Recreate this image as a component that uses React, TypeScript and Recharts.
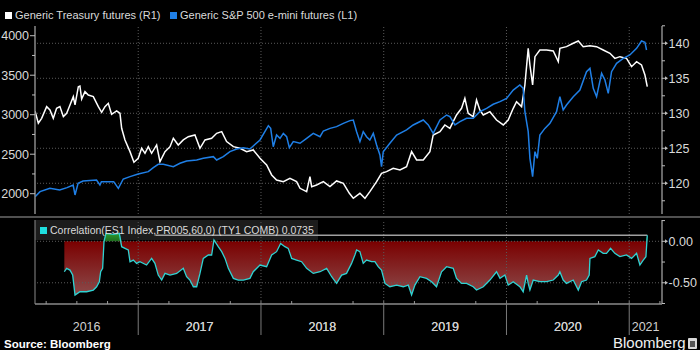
import React from 'react';
import { ComposedChart, Line, Area, XAxis, YAxis, ReferenceLine } from 'recharts';

// ---------- DATA ----------
// Generic S&P 500 e-mini futures (L1) — date as decimal year
const spxDates = [
  2016.16, 2016.2, 2016.28, 2016.36, 2016.42, 2016.47, 2016.485, 2016.51, 2016.55, 2016.66,
  2016.688, 2016.7, 2016.8, 2016.838, 2016.878, 2016.933, 2017.0, 2017.082, 2017.123, 2017.163,
  2017.204, 2017.286, 2017.34, 2017.394, 2017.476, 2017.53, 2017.612, 2017.639, 2017.693, 2017.747,
  2017.802, 2017.856, 2017.91, 2017.992, 2018.06, 2018.079, 2018.1, 2018.127, 2018.155, 2018.182,
  2018.209, 2018.231, 2018.263, 2018.318, 2018.372, 2018.426, 2018.481, 2018.508, 2018.562, 2018.616,
  2018.671, 2018.725, 2018.752, 2018.779, 2018.806, 2018.833, 2018.86, 2018.887, 2018.915, 2018.942,
  2018.969, 2018.982, 2018.996, 2019.05, 2019.105, 2019.186, 2019.24, 2019.322, 2019.363, 2019.403,
  2019.458, 2019.512, 2019.539, 2019.58, 2019.621, 2019.675, 2019.729, 2019.783, 2019.838, 2019.892,
  2019.947, 2020.001, 2020.055, 2020.109, 2020.136, 2020.15, 2020.177, 2020.191, 2020.213, 2020.232,
  2020.251, 2020.272, 2020.313, 2020.354, 2020.408, 2020.435, 2020.462, 2020.489, 2020.544, 2020.598,
  2020.652, 2020.68, 2020.707, 2020.734, 2020.775, 2020.802, 2020.829, 2020.856, 2020.897, 2020.951,
  2021.005, 2021.06, 2021.1, 2021.128, 2021.141,
];
const spxValues = [
  1962, 2026, 2068, 2047, 2077, 2110, 1984, 2131, 2161, 2173,
  2110, 2152, 2152, 2068, 2186, 2216, 2249, 2279, 2330, 2372,
  2372, 2342, 2385, 2414, 2427, 2448, 2469, 2427, 2469, 2532,
  2566, 2583, 2566, 2680, 2861, 2827, 2595, 2743, 2701, 2764,
  2722, 2583, 2659, 2638, 2701, 2764, 2722, 2794, 2827, 2849,
  2891, 2925, 2933, 2785, 2659, 2785, 2722, 2680, 2764, 2617,
  2490, 2342, 2532, 2638, 2743, 2807, 2870, 2933, 2870, 2764,
  2933, 2996, 2975, 2870, 2912, 2954, 2954, 3038, 3081, 3132,
  3165, 3207, 3312, 3376, 3334, 3038, 2785, 2448, 2216, 2532,
  2448, 2743, 2827, 2891, 3038, 3228, 3060, 3123, 3228, 3312,
  3545, 3587, 3334, 3228, 3524, 3439, 3270, 3545, 3650, 3714,
  3756, 3840, 3933, 3916, 3819,
];

// Generic Treasury futures (R1)
const tyDates = [
  2016.159, 2016.186, 2016.213, 2016.254, 2016.281, 2016.308, 2016.335, 2016.362, 2016.39, 2016.417,
  2016.444, 2016.471, 2016.485, 2016.512, 2016.525, 2016.539, 2016.566, 2016.593, 2016.634, 2016.675,
  2016.702, 2016.729, 2016.756, 2016.783, 2016.824, 2016.851, 2016.865, 2016.892, 2016.933, 2016.965,
  2017.0, 2017.028, 2017.055, 2017.082, 2017.109, 2017.15, 2017.177, 2017.218, 2017.259, 2017.286,
  2017.326, 2017.367, 2017.408, 2017.462, 2017.503, 2017.544, 2017.598, 2017.639, 2017.68, 2017.72,
  2017.775, 2017.829, 2017.883, 2017.937, 2017.992, 2018.046, 2018.087, 2018.127, 2018.182, 2018.236,
  2018.29, 2018.318, 2018.372, 2018.399, 2018.413, 2018.453, 2018.508, 2018.562, 2018.616, 2018.671,
  2018.72, 2018.752, 2018.806, 2018.847, 2018.887, 2018.942, 2018.982, 2019.023, 2019.077, 2019.132,
  2019.186, 2019.227, 2019.268, 2019.322, 2019.376, 2019.403, 2019.458, 2019.498, 2019.539, 2019.593,
  2019.634, 2019.661, 2019.688, 2019.729, 2019.756, 2019.783, 2019.811, 2019.865, 2019.919, 2019.974,
  2020.014, 2020.055, 2020.082, 2020.123, 2020.15, 2020.177, 2020.191, 2020.213, 2020.232, 2020.272,
  2020.327, 2020.381, 2020.422, 2020.435, 2020.489, 2020.544, 2020.585, 2020.625, 2020.68, 2020.734,
  2020.788, 2020.843, 2020.883, 2020.924, 2020.978, 2021.019, 2021.06, 2021.1, 2021.128, 2021.147,
];
const tyValues = [
  130.33, 128.57, 129.28, 130.95, 130.47, 129.28, 130.71, 130.95, 129.52, 130.0,
  131.19, 132.38, 131.19, 133.8, 133.9, 132.04, 133.09, 132.61, 132.38, 130.95,
  130.14, 130.95, 131.42, 129.85, 130.33, 130.0, 127.86, 126.19, 124.52, 123.0,
  123.57, 125.0, 124.28, 125.23, 124.28, 125.47, 123.09, 124.52, 125.23, 126.42,
  125.47, 126.19, 126.66, 126.9, 125.0, 126.19, 126.42, 127.14, 127.38, 125.95,
  125.23, 125.0, 124.52, 124.76, 123.57, 122.62, 121.19, 120.47, 120.23, 120.71,
  120.23, 119.28, 118.8, 120.95, 119.52, 119.76, 120.23, 119.52, 120.33, 120.0,
  118.57, 117.85, 118.57, 117.85, 118.8, 120.23, 121.42, 121.66, 122.14, 121.9,
  122.38, 124.52, 123.33, 123.33, 124.52, 126.9, 127.38, 128.33, 127.85, 129.76,
  130.71, 132.14, 130.0, 129.52, 131.9, 130.47, 129.76, 130.23, 129.04, 128.33,
  129.04, 130.71, 131.66, 130.95, 134.04, 139.28, 136.9, 134.04, 138.09, 139.04,
  139.04, 138.9, 137.38, 139.28, 139.52, 140.0, 140.33, 139.52, 139.66, 139.52,
  139.04, 138.57, 137.85, 138.09, 137.85, 136.66, 137.38, 136.9, 135.47, 133.8,
];

// Correlation(ES1 Index,PR005,60,0) (TY1 COMB)
const corrDates = [
  2016.398, 2016.417, 2016.444, 2016.466, 2016.485, 2016.525, 2016.58, 2016.634, 2016.661, 2016.683,
  2016.694, 2016.71, 2016.721, 2016.737, 2016.797, 2016.846, 2016.865, 2016.892, 2016.919, 2016.933,
  2016.96, 2016.987, 2017.014, 2017.068, 2017.109, 2017.136, 2017.163, 2017.191, 2017.218, 2017.259,
  2017.313, 2017.367, 2017.394, 2017.421, 2017.449, 2017.476, 2017.503, 2017.53, 2017.571, 2017.598,
  2017.617, 2017.652, 2017.68, 2017.707, 2017.734, 2017.775, 2017.815, 2017.856, 2017.91, 2017.937,
  2017.992, 2018.046, 2018.087, 2018.127, 2018.16, 2018.195, 2018.222, 2018.25, 2018.29, 2018.331,
  2018.372, 2018.426, 2018.481, 2018.535, 2018.576, 2018.616, 2018.657, 2018.697, 2018.738, 2018.765,
  2018.779, 2018.806, 2018.833, 2018.86, 2018.901, 2018.928, 2018.955, 2018.982, 2019.01, 2019.05,
  2019.105, 2019.159, 2019.2, 2019.227, 2019.254, 2019.295, 2019.349, 2019.39, 2019.43, 2019.471,
  2019.512, 2019.566, 2019.593, 2019.634, 2019.675, 2019.729, 2019.756, 2019.811, 2019.865, 2019.919,
  2019.947, 2019.987, 2020.014, 2020.055, 2020.109, 2020.136, 2020.164, 2020.177, 2020.191, 2020.218,
  2020.272, 2020.327, 2020.381, 2020.422, 2020.435, 2020.462, 2020.489, 2020.544, 2020.585, 2020.612,
  2020.652, 2020.674, 2020.68, 2020.72, 2020.748, 2020.788, 2020.815, 2020.848, 2020.883, 2020.924,
  2020.978, 2021.019, 2021.06, 2021.087, 2021.114, 2021.136, 2021.147,
];
const corrValues = [
  -0.367, -0.326, -0.347, -0.407, -0.648, -0.608, -0.608, -0.588, -0.548, -0.487,
  -0.367, -0.326, -0.004, 0.096, 0.084, 0.096, -0.065, -0.085, -0.105, -0.246,
  -0.226, -0.266, -0.246, -0.286, -0.206, -0.266, -0.407, -0.467, -0.387, -0.407,
  -0.387, -0.326, -0.427, -0.467, -0.548, -0.548, -0.387, -0.206, -0.165, -0.165,
  0.016, -0.065, -0.125, -0.206, -0.326, -0.447, -0.467, -0.467, -0.447, -0.367,
  -0.286, -0.306, -0.165, -0.125, -0.025, -0.065, -0.085, -0.206, -0.226, -0.246,
  -0.326, -0.387, -0.367, -0.326, -0.427, -0.508, -0.407, -0.387, -0.266, -0.165,
  -0.105, -0.125, -0.266, -0.226, -0.246, -0.246, -0.306, -0.347, -0.508, -0.548,
  -0.528, -0.548, -0.528, -0.648, -0.528, -0.427, -0.447, -0.487, -0.548, -0.367,
  -0.306, -0.326, -0.447, -0.508, -0.508, -0.548, -0.588, -0.548, -0.467, -0.367,
  -0.447, -0.407, -0.528, -0.487, -0.548, -0.608, -0.407, -0.508, -0.588, -0.467,
  -0.487, -0.487, -0.467, -0.407, -0.367, -0.467, -0.508, -0.467, -0.588, -0.487,
  -0.467, -0.407, -0.206, -0.185, -0.105, -0.145, -0.145, -0.085, -0.145, -0.185,
  -0.165, -0.206, -0.145, -0.286, -0.226, -0.185, 0.0735,
];
const corrLast = 0.0735;

// Axes
const xDomain = [2016.159, 2021.267];
const yearBoundaries = [2017, 2018, 2019, 2020, 2021];
const yearLabels = ['2016', '2017', '2018', '2019', '2020', '2021'];
const quarterTicks = [
  2016.25, 2016.5, 2016.75, 2017, 2017.25, 2017.5, 2017.75, 2018, 2018.25, 2018.5, 2018.75,
  2019, 2019.25, 2019.5, 2019.75, 2020, 2020.25, 2020.5, 2020.75, 2021, 2021.25,
];
const leftTicks = [2000, 2250, 2500, 2750, 3000, 3250, 3500, 3750, 4000];
const leftDomain = [1743, 4123];
const rightTicks = [117.5, 120, 122.5, 125, 127.5, 130, 132.5, 135, 137.5, 140, 142.5];
const rightGrid = [120, 125, 130, 135, 140];
const rightDomain = [115.61, 142.47];
const corrTicks = [0.25, 0, -0.25, -0.5, -0.75];
const corrGrid = [0, -0.5];
const corrDomain = [-0.756, 0.257];
const corrLabelStart = 2017.14;

// ---------- STYLE ----------
const FONT = '"Liberation Sans", Arial, sans-serif';
const AXIS = '#8a8a8a';
const GRID = '#5a5a5a';
const TXT = '#dadada';

const spxData = spxDates.map((t, i) => ({ t, v: spxValues[i] }));
const tyData = tyDates.map((t, i) => ({ t, v: tyValues[i] }));
const corrData = corrDates.map((t, i) => ({ t, v: corrValues[i] }));
const corrNeg = corrDates.map((t, i) => ({ t, v: Math.min(corrValues[i], 0) }));
const corrPos = corrDates.map((t, i) => ({ t, v: Math.max(corrValues[i], 0) }));
const labelCenters = yearLabels.map((_, i) => {
  const y0 = Math.max(2016 + i, xDomain[0]);
  const y1 = Math.min(2017 + i, xDomain[1]);
  return (y0 + y1) / 2;
});
const xTicks = [...quarterTicks, ...labelCenters].sort((a, b) => a - b);

const LeftTick = (props: any) => {
  const { x, y, payload } = props;
  const v = payload.value;
  const major = v % 500 === 0;
  return (
    <g>
      <line x1={x - (major ? 5 : 3)} x2={x} y1={y} y2={y} stroke="#bdbdbd" strokeWidth={1} />
      {major && (
        <text x={x - 6} y={y} dy={4.5} textAnchor="end" fill={TXT} fontSize={12.5} fontFamily={FONT}>
          {v}
        </text>
      )}
    </g>
  );
};

const RightTick = (props: any) => {
  const { x, y, payload } = props;
  const v = payload.value;
  const major = Math.abs(v % 5) < 1e-6;
  return (
    <g>
      <line x1={x} x2={x + (major ? 4 : 3)} y1={y} y2={y} stroke="#bdbdbd" strokeWidth={1} />
      {major && <polygon points={`${x + 3},${y - 2} ${x + 6},${y} ${x + 3},${y + 2}`} fill="#bdbdbd" />}
      {major && (
        <text x={x + 6.5} y={y} dy={4.5} textAnchor="start" fill={TXT} fontSize={12.5} fontFamily={FONT}>
          {v}
        </text>
      )}
    </g>
  );
};

const CorrTick = (props: any) => {
  const { x, y, payload } = props;
  const v = payload.value;
  const major = Math.abs((v * 2) % 1) < 1e-6;
  return (
    <g>
      <line x1={x} x2={x + (major ? 4 : 3)} y1={y} y2={y} stroke="#bdbdbd" strokeWidth={1} />
      {major && <polygon points={`${x + 3},${y - 2} ${x + 6},${y} ${x + 3},${y + 2}`} fill="#bdbdbd" />}
      {major && (
        <text x={x + 6.5} y={y} dy={4.5} textAnchor="start" fill={TXT} fontSize={12.5} fontFamily={FONT}>
          {v.toFixed(2)}
        </text>
      )}
    </g>
  );
};

const XTick = (props: any) => {
  const { x, y, payload } = props;
  const v = payload.value;
  const li = labelCenters.findIndex((c) => Math.abs(c - v) < 1e-6);
  if (li >= 0) {
    return (
      <text x={x} y={y + 27} textAnchor="middle" fill="#d0d0d0" fontSize={12.5} fontFamily={FONT}>
        {yearLabels[li]}
      </text>
    );
  }
  if (Math.abs(v - Math.round(v)) < 1e-6) {
    return <line x1={x} x2={x} y1={y - 3} y2={y + 31} stroke="#7a7a7a" strokeWidth={1} />;
  }
  return <line x1={x} x2={x} y1={y - 3} y2={y} stroke="#9a9a9a" strokeWidth={1} />;
};

const abs = (o: React.CSSProperties): React.CSSProperties => ({ position: 'absolute', ...o });

export default function App() {
  return (
    <div style={abs({ left: 0, top: 0, width: 700, height: 350, background: '#000', overflow: 'hidden', fontFamily: FONT })}>
      {/* top legend */}
      <div style={abs({ left: 5, top: 12, width: 7, height: 7, background: '#ffffff' })} />
      <div style={abs({ left: 15, top: 8, fontSize: 11, lineHeight: '14px', color: TXT, whiteSpace: 'nowrap' })}>
        Generic Treasury futures (R1)
      </div>
      <div style={abs({ left: 170, top: 12, width: 7, height: 7, background: '#1f7fe6' })} />
      <div style={abs({ left: 180, top: 8, fontSize: 11, lineHeight: '14px', color: TXT, whiteSpace: 'nowrap' })}>
        Generic S&amp;P 500 e-mini futures (L1)
      </div>

      {/* top panel */}
      <div style={abs({ left: 0, top: 0 })}>
        <ComposedChart width={700} height={220} margin={{ top: 26, right: 0, bottom: 6, left: 0 }}>
          <XAxis type="number" dataKey="t" domain={xDomain} allowDataOverflow hide />
          <YAxis
            yAxisId="left"
            orientation="left"
            width={35}
            type="number"
            domain={leftDomain}
            allowDataOverflow
            ticks={leftTicks}
            interval={0}
            tick={<LeftTick />}
            tickLine={false}
            tickSize={0}
            tickMargin={0}
            axisLine={{ stroke: AXIS, strokeWidth: 1.5 }}
          />
          <YAxis
            yAxisId="right"
            orientation="right"
            width={38}
            type="number"
            domain={rightDomain}
            allowDataOverflow
            ticks={rightTicks}
            interval={0}
            tick={<RightTick />}
            tickLine={false}
            tickSize={0}
            tickMargin={0}
            axisLine={{ stroke: AXIS, strokeWidth: 1.5 }}
          />
          {rightGrid.map((g) => (
            <ReferenceLine key={'rg' + g} yAxisId="right" y={g} stroke={GRID} strokeDasharray="1 2" />
          ))}
          {yearBoundaries.map((yb) => (
            <ReferenceLine key={'yb' + yb} yAxisId="right" x={yb} stroke={GRID} strokeDasharray="1 2" />
          ))}
          <Line
            yAxisId="right"
            data={tyData}
            dataKey="v"
            type="linear"
            stroke="#ffffff"
            strokeWidth={1.5}
            dot={false}
            isAnimationActive={false}
          />
          <Line
            yAxisId="left"
            data={spxData}
            dataKey="v"
            type="linear"
            stroke="#1f7fe6"
            strokeWidth={1.5}
            dot={false}
            isAnimationActive={false}
          />
        </ComposedChart>
      </div>

      {/* separator */}
      <div style={abs({ left: 0, top: 216, width: 700, height: 2, background: '#505050' })} />

      {/* lower legend box (behind) */}
      <div style={abs({ left: 35, top: 220, width: 283, height: 20, background: '#1c1c1c' })} />

      {/* lower panel */}
      <div style={abs({ left: 0, top: 0 })}>
        <ComposedChart width={700} height={350} margin={{ top: 220, right: 0, bottom: 0, left: 0 }}>
          <defs>
            <linearGradient id="redGrad" x1="0" y1="0" x2="0" y2="1">
              <stop offset="0%" stopColor="#7a0000" />
              <stop offset="100%" stopColor="#8c4a4a" />
            </linearGradient>
            <linearGradient id="greenGrad" x1="0" y1="0" x2="0" y2="1">
              <stop offset="0%" stopColor="#2f9a2f" />
              <stop offset="100%" stopColor="#1b6b1b" />
            </linearGradient>
          </defs>
          <XAxis
            type="number"
            dataKey="t"
            domain={xDomain}
            allowDataOverflow
            ticks={xTicks}
            interval={0}
            height={46}
            tick={<XTick />}
            tickLine={false}
            tickSize={0}
            tickMargin={0}
            axisLine={{ stroke: AXIS, strokeWidth: 1.5 }}
          />
          <YAxis
            yAxisId="l"
            orientation="left"
            width={35}
            type="number"
            domain={corrDomain}
            allowDataOverflow
            tick={false}
            tickLine={false}
            axisLine={{ stroke: AXIS, strokeWidth: 1 }}
          />
          <YAxis
            yAxisId="r"
            orientation="right"
            width={38}
            type="number"
            domain={corrDomain}
            allowDataOverflow
            ticks={corrTicks}
            interval={0}
            tick={<CorrTick />}
            tickLine={false}
            tickSize={0}
            tickMargin={0}
            axisLine={{ stroke: AXIS, strokeWidth: 1.5 }}
          />
          {corrGrid.map((g) => (
            <ReferenceLine key={'cg' + g} yAxisId="r" y={g} stroke={GRID} strokeDasharray="1 2" />
          ))}
          {yearBoundaries.map((yb) => (
            <ReferenceLine key={'cyb' + yb} yAxisId="r" x={yb} stroke={GRID} strokeDasharray="1 2" />
          ))}
          <Area
            yAxisId="r"
            data={corrNeg}
            dataKey="v"
            type="linear"
            baseValue={0}
            stroke="none"
            fill="url(#redGrad)"
            fillOpacity={1}
            isAnimationActive={false}
          />
          <Area
            yAxisId="r"
            data={corrPos}
            dataKey="v"
            type="linear"
            baseValue={0}
            stroke="none"
            fill="url(#greenGrad)"
            fillOpacity={1}
            isAnimationActive={false}
          />
          <ReferenceLine
            yAxisId="r"
            segment={[
              { x: corrLabelStart, y: corrLast },
              { x: corrDates[corrDates.length - 1], y: corrLast },
            ]}
            stroke="#a0a0a0"
            strokeWidth={1.5}
          />
          <Line
            yAxisId="r"
            data={corrData}
            dataKey="v"
            type="linear"
            stroke="#2fd3d3"
            strokeWidth={1.3}
            dot={false}
            isAnimationActive={false}
          />
        </ComposedChart>
      </div>

      {/* lower legend text (front) */}
      <div style={abs({ left: 40, top: 227, width: 7, height: 7, background: '#1fe0e0' })} />
      <div style={abs({ left: 50, top: 223, fontSize: 10.5, lineHeight: '14px', color: TXT, whiteSpace: 'nowrap' })}>
        Correlation(ES1 Index,PR005,60,0) (TY1 COMB) {corrLast}
      </div>

      {/* footer */}
      <div style={abs({ left: 4, top: 337, fontSize: 11.5, lineHeight: '14px', fontWeight: 'bold', color: '#ffffff', whiteSpace: 'nowrap' })}>
        Source: Bloomberg
      </div>
      <div style={abs({ left: 613, top: 334, fontSize: 15, lineHeight: '17px', color: '#f0f0f0', whiteSpace: 'nowrap' })}>
        Bloomberg
      </div>
      <div style={abs({ left: 688, top: 338, width: 9, height: 11, background: '#d8d8d8', borderRadius: 1 })}>
        <div style={abs({ left: 2, top: 3, width: 5, height: 6, background: '#555' })} />
      </div>
    </div>
  );
}
